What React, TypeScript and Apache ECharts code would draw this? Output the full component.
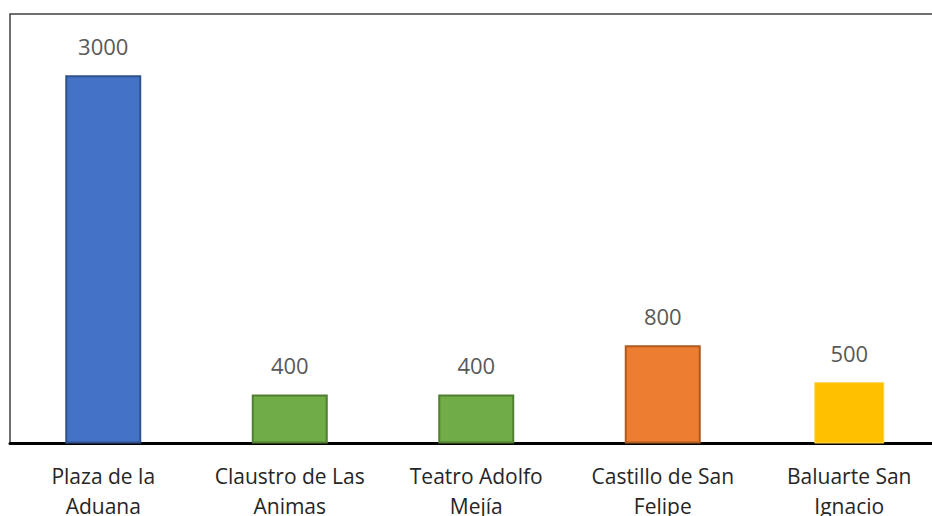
import React, { useEffect, useRef } from "react";
import * as echarts from "echarts";

const categories = [
  "Plaza de la\nAduana",
  "Claustro de Las\nAnimas",
  "Teatro Adolfo\nMejía",
  "Castillo de San\nFelipe",
  "Baluarte San\nIgnacio",
];
const values = [3000, 400, 400, 800, 500];
const fillColors = ["#4472C4", "#70AD47", "#70AD47", "#ED7D31", "#FFC000"];
const borderColors = ["#2F528F", "#507E32", "#507E32", "#AE5A21", "#FFD24D"];
const narrowIndex = 4;

export default function App() {
  const ref = useRef<HTMLDivElement>(null);
  useEffect(() => {
    if (!ref.current) return;
    const chart = echarts.init(ref.current, null, { renderer: "svg" });
    const label = {
      show: true,
      position: "top",
      distance: 18,
      color: "#595959",
      fontSize: 22,
      fontFamily: "Open Sans",
    };
    const item = (v: number, i: number) => ({
      value: v,
      itemStyle: {
        color: fillColors[i],
        borderColor: borderColors[i],
        borderWidth: i === narrowIndex ? 1 : 2,
      },
    });
    chart.setOption({
      animation: false,
      backgroundColor: "#ffffff",
      textStyle: { fontFamily: "Open Sans" },
      graphic: [
        {
          type: "rect",
          z: 0,
          shape: { x: 10, y: 14, width: 980, height: 429 },
          style: { fill: "none", stroke: "#404040", lineWidth: 1.5 },
        },
      ],
      grid: {
        left: 10,
        right: -10.5,
        top: 14,
        bottom: 72.5,
        containLabel: false,
        outerBoundsMode: "none",
      },
      xAxis: [
        {
          type: "category",
          data: categories,
          axisLine: { show: true, lineStyle: { color: "#000000", width: 3 } },
          axisTick: { show: false },
          axisLabel: {
            color: "#262626",
            fontSize: 21,
            fontFamily: "Open Sans",
            lineHeight: 30,
            margin: 17,
            interval: 0,
          },
        },
        {
          type: "category",
          data: categories,
          position: "bottom",
          show: false,
        },
      ],
      yAxis: {
        type: "value",
        min: 0,
        max: 3500,
        show: false,
        splitLine: { show: false },
      },
      series: [
        {
          type: "bar",
          xAxisIndex: 0,
          barWidth: 76,
          z: 3,
          data: values.map((v, i) => (i === narrowIndex ? null : item(v, i))),
          label,
        },
        {
          type: "bar",
          xAxisIndex: 1,
          barWidth: 70,
          z: 3,
          data: values.map((v, i) => (i === narrowIndex ? item(v, i) : null)),
          label,
        },
      ],
    });
    return () => chart.dispose();
  }, []);
  return (
    <div
      ref={ref}
      style={{ position: "fixed", left: 0, top: 0, width: 932, height: 516 }}
    />
  );
}
